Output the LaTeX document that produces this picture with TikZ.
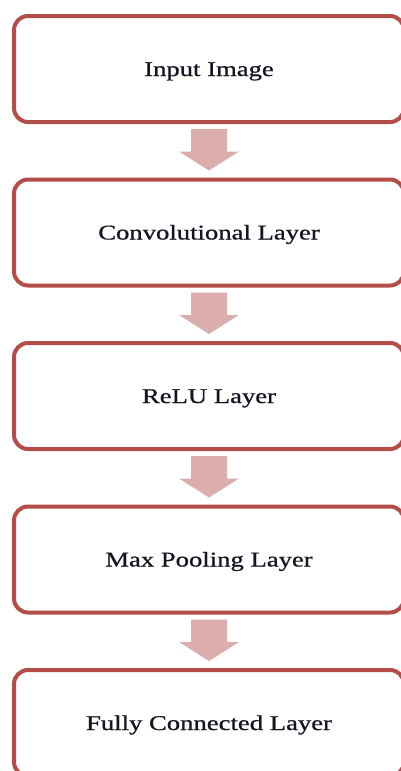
\documentclass[tikz,border=0pt]{standalone}
\usepackage{fontspec}
\setmainfont{Liberation Serif}[FakeBold=0.7]
\usetikzlibrary{calc}

\definecolor{boxred}{RGB}{180,76,72}
\definecolor{arrowpink}{RGB}{219,173,173}
\definecolor{labelink}{RGB}{22,20,34}

\tikzset{
  layerbox/.style={
    draw=boxred, line width=4pt, rounded corners=14pt, fill=white,
    minimum width=390pt, minimum height=106pt,
    text height=14pt, text depth=0pt, inner sep=0pt,
    font=\fontsize{21}{24}\selectfont, text=labelink
  },
  flowarrow/.style={fill=arrowpink, draw=none}
}

% block arrow from the bottom of one box to the top of the next
\newcommand{\flowdown}[2]{%
  \fill[flowarrow]
    ($(#1.south)+(-18pt,-5pt)$) -- ($(#1.south)+(18pt,-5pt)$) --
    ($(#2.north)+(18pt,26pt)$) -- ($(#2.north)+(30pt,26pt)$) --
    ($(#2.north)+(0pt,7pt)$) --
    ($(#2.north)+(-30pt,26pt)$) -- ($(#2.north)+(-18pt,26pt)$) -- cycle;}

\newcommand{\wide}[1]{\scalebox{1.27}[1]{#1}}

\begin{document}
\begin{tikzpicture}[x=1pt,y=1pt]
  \useasboundingbox (0,0) rectangle (401,-771);
  \clip (0,0) rectangle (401,-771);
  \fill[white] (0,0) rectangle (401,-771);

  \node[layerbox] (input) at (209,-69)    {\wide{Input Image}};
  \node[layerbox] (conv)  at (209,-232.5) {\wide{Convolutional Layer}};
  \node[layerbox] (relu)  at (209,-396)   {\wide{ReLU Layer}};
  \node[layerbox] (pool)  at (209,-559.5) {\wide{Max Pooling Layer}};
  \node[layerbox] (fc)    at (209,-723)   {\wide{Fully Connected Layer}};

  \flowdown{input}{conv}
  \flowdown{conv}{relu}
  \flowdown{relu}{pool}
  \flowdown{pool}{fc}
\end{tikzpicture}
\end{document}
